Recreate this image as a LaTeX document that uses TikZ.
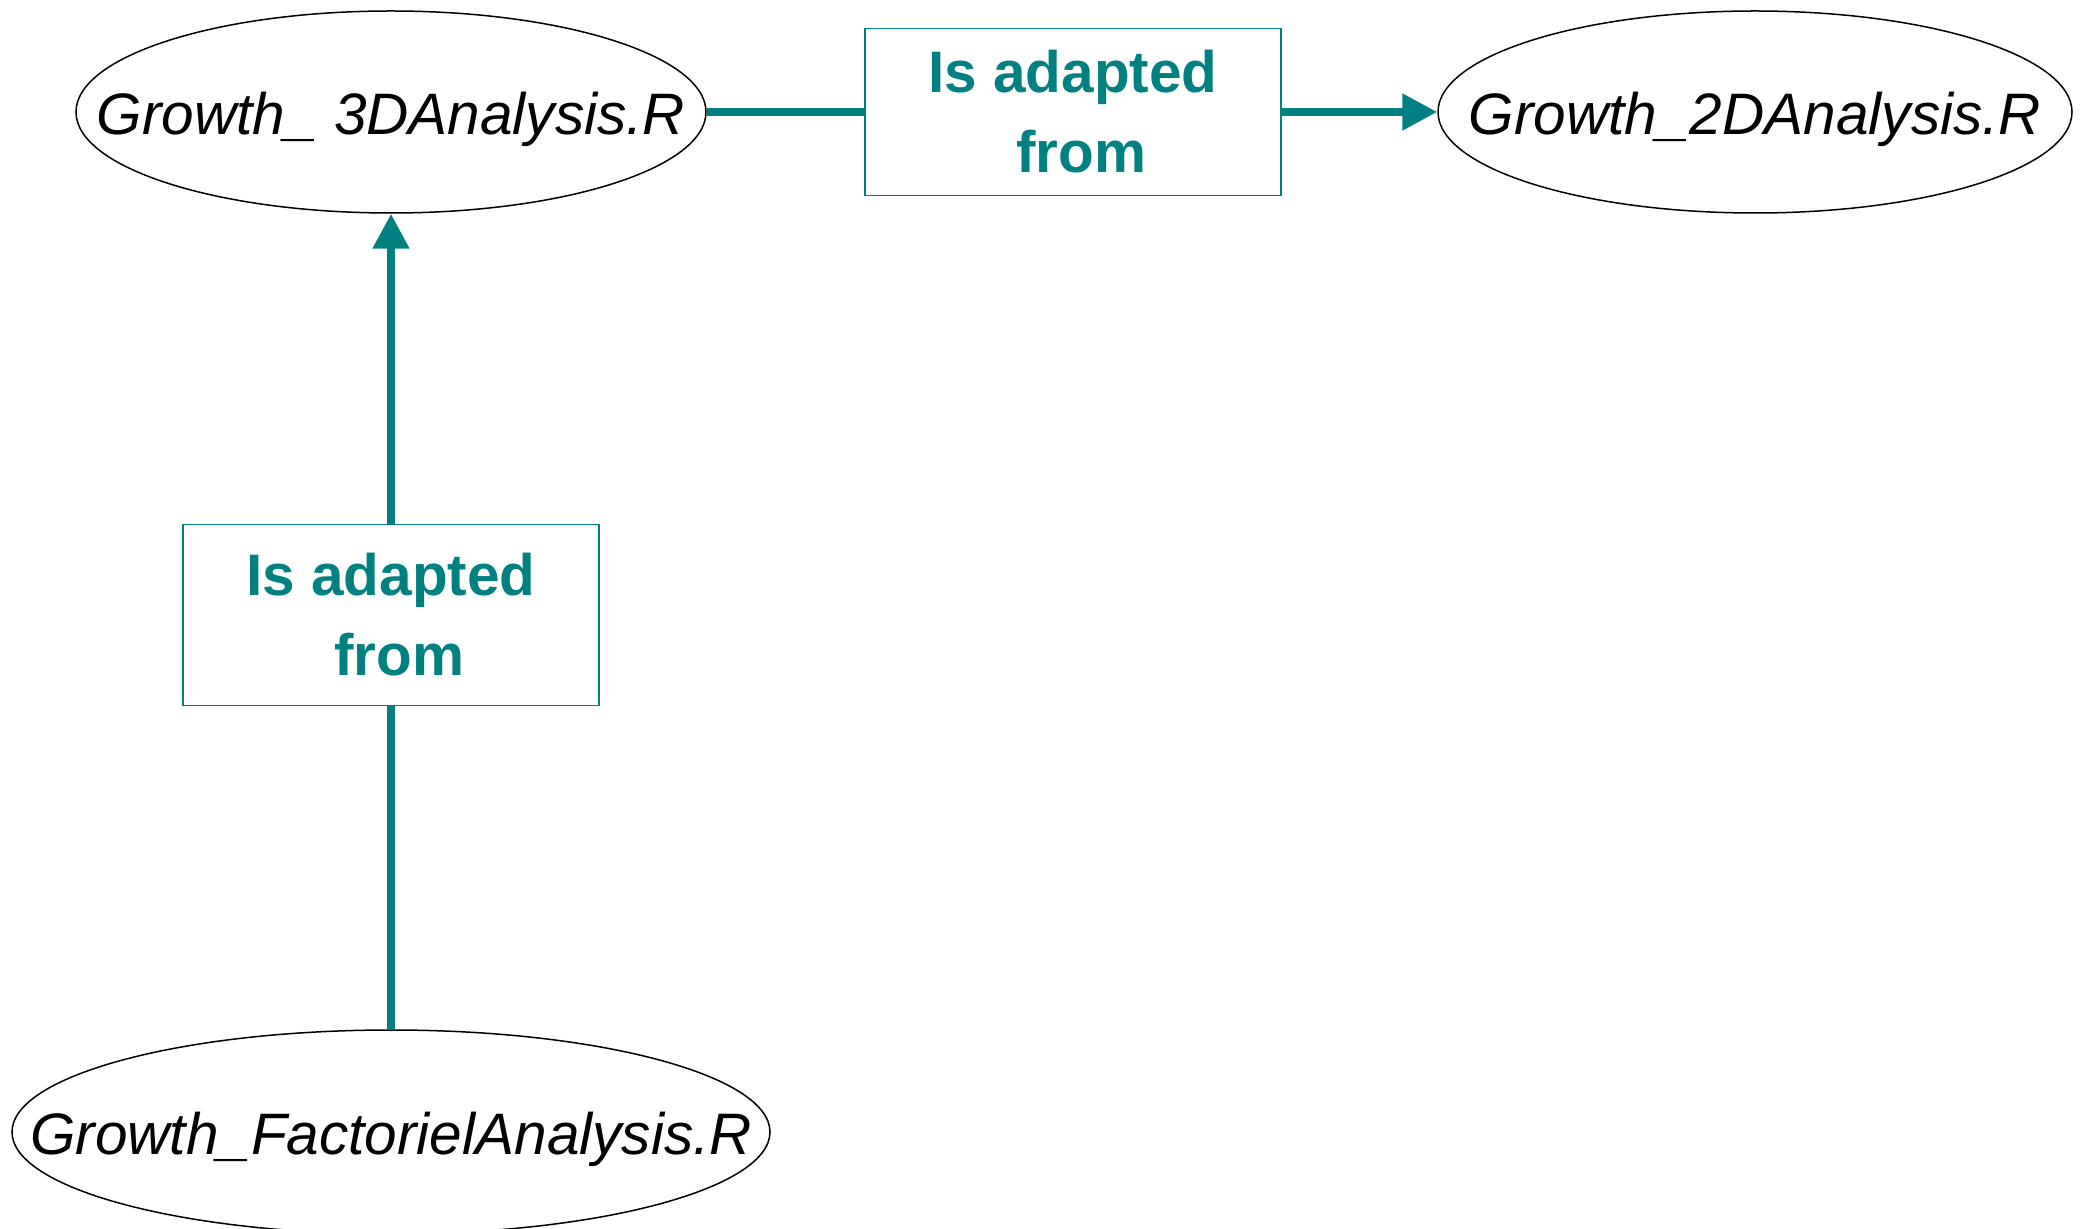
\documentclass[tikz,border=0pt]{standalone}
\usepackage{fontspec}
\setmainfont{Liberation Sans}
\usetikzlibrary{shapes.geometric,arrows.meta}
\definecolor{tealc}{HTML}{008080}
\begin{document}
\begin{tikzpicture}[x=0.5pt,y=-0.5pt,
  fileell/.style={draw=black,line width=0.75pt,ellipse,inner sep=0pt,
    text height=22.6pt,text depth=0pt,
    font=\fontsize{29.25}{36}\selectfont\itshape},
  relbox/.style={draw=tealc,line width=0.75pt,rectangle,inner sep=0pt,
    minimum width=208pt,align=center,text=tealc,
    font=\fontsize{29.25}{40}\selectfont\bfseries},
  conn/.style={draw=tealc,line width=4pt},
  tip/.style={-{Triangle[length=17.5pt,width=17.5pt]}}]
\useasboundingbox (0,0) rectangle (2083,1229);
\node[fileell,minimum width=315pt,minimum height=101pt] (e1) at (391,112) {\makebox[0pt]{Growth\_ 3DAnalysis.R}};
\node[fileell,minimum width=317pt,minimum height=101pt] (e2) at (1755,112) {\makebox[0pt]{Growth\_2DAnalysis.R}};
\node[fileell,minimum width=379pt,minimum height=102pt] (e3) at (391,1132) {\makebox[0pt]{Growth\_FactorielAnalysis.R}};
\node[relbox,minimum height=83.7pt] (b1) at (1073,112) {\rule{0pt}{4pt}Is adapted\\\hspace*{0.278em}from};
\node[relbox,minimum height=90.4pt] (b2) at (391,615) {\rule{0pt}{4pt}Is adapted\\\hspace*{0.278em}from};
\draw[conn] (e1) -- (b1);
\draw[conn,tip] (b1) -- (e2);
\draw[conn,tip] (b2) -- (e1);
\draw[conn] (e3) -- (b2);
\end{tikzpicture}
\end{document}
